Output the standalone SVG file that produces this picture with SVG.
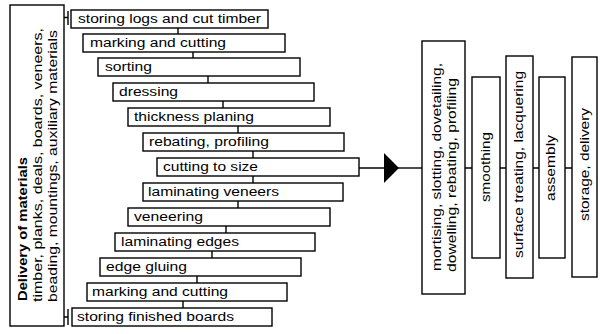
<svg xmlns="http://www.w3.org/2000/svg" width="600" height="334" viewBox="0 0 600 334">
<style>
rect{fill:#fff;stroke:#000;stroke-width:1.4}
text{font-family:"Liberation Sans",Arial,sans-serif;font-size:12px;fill:#000}
.b{font-weight:bold}
.c{fill:none;stroke:#000;stroke-width:1.4}
</style>
<defs>
<marker id="ah" viewBox="0 0 15 30" refX="15" refY="15" markerWidth="15" markerHeight="30" markerUnits="userSpaceOnUse" orient="auto">
<path d="M0,0 L15,15 L0,30 Z" fill="#000"/>
</marker>
</defs>
<rect width="600" height="334" style="fill:#fff;stroke:none"/>
<g id="connectors">
<path class="c" d="M64,17.5 H68 M68,11 V25"/>
<path class="c" d="M64,317 H68 M68,309 V325"/>
<path class="c" d="M178,28 V34 M193,52 V58 M208,76 V83 M223,101 V108 M238,126 V133 M253,151 V158 M253,176 V183 M238,201 V208 M226,226 V233 M212,251 V258 M197,276 V283 M183,301 V308"/>
<path class="c" d="M359,168 H399" marker-end="url(#ah)"/>
<path class="c" d="M399,168 H422"/>
<path class="c" d="M465,168 H472 M500,168 H506 M533,168 H539 M565,168 H572"/>
</g>
<g id="delivery">
<rect x="10" y="5" width="54" height="321"/>
<text class="b" transform="translate(27,301) rotate(-90)" textLength="144" lengthAdjust="spacingAndGlyphs">Delivery of materials</text>
<text transform="translate(42,302) rotate(-90)" textLength="274" lengthAdjust="spacingAndGlyphs">timber, planks, deals, boards, veneers,</text>
<text transform="translate(57,302) rotate(-90)" textLength="272" lengthAdjust="spacingAndGlyphs">beading, mountings, auxiliary materials</text>
</g>
<g id="s1"><rect x="71" y="10" width="197" height="18"/><text x="78" y="23" textLength="183" lengthAdjust="spacingAndGlyphs">storing logs and cut timber</text></g>
<g id="s2"><rect x="83" y="34" width="202" height="18"/><text x="90" y="47" textLength="136" lengthAdjust="spacingAndGlyphs">marking and cutting</text></g>
<g id="s3"><rect x="98" y="58" width="202" height="18"/><text x="105" y="71" textLength="47" lengthAdjust="spacingAndGlyphs">sorting</text></g>
<g id="s4"><rect x="113" y="83" width="201" height="18"/><text x="119" y="96" textLength="59" lengthAdjust="spacingAndGlyphs">dressing</text></g>
<g id="s5"><rect x="128" y="108" width="202" height="18"/><text x="134" y="121" textLength="120" lengthAdjust="spacingAndGlyphs">thickness planing</text></g>
<g id="s6"><rect x="143" y="133" width="201" height="18"/><text x="149" y="146" textLength="120" lengthAdjust="spacingAndGlyphs">rebating, profiling</text></g>
<g id="s7"><rect x="157" y="158" width="202" height="18"/><text x="163" y="171" textLength="95" lengthAdjust="spacingAndGlyphs">cutting to size</text></g>
<g id="s8"><rect x="143" y="183" width="200" height="18"/><text x="148" y="196" textLength="131" lengthAdjust="spacingAndGlyphs">laminating veneers</text></g>
<g id="s9"><rect x="128" y="208" width="202" height="18"/><text x="134" y="221" textLength="69" lengthAdjust="spacingAndGlyphs">veneering</text></g>
<g id="s10"><rect x="115" y="233" width="200" height="18"/><text x="121" y="246" textLength="118" lengthAdjust="spacingAndGlyphs">laminating edges</text></g>
<g id="s11"><rect x="100" y="258" width="201" height="18"/><text x="106" y="271" textLength="81" lengthAdjust="spacingAndGlyphs">edge gluing</text></g>
<g id="s12"><rect x="87" y="283" width="200" height="18"/><text x="92" y="296" textLength="136" lengthAdjust="spacingAndGlyphs">marking and cutting</text></g>
<g id="s13"><rect x="72" y="308" width="200" height="18"/><text x="77" y="321" textLength="157" lengthAdjust="spacingAndGlyphs">storing finished boards</text></g>
<g id="mortising">
<rect x="422" y="41" width="43" height="253"/>
<text transform="translate(441,271) rotate(-90)" textLength="208" lengthAdjust="spacingAndGlyphs">mortising, slotting, dovetailing,</text>
<text transform="translate(456,272) rotate(-90)" textLength="194" lengthAdjust="spacingAndGlyphs">dowelling, rebating, profiling</text>
</g>
<g id="smoothing">
<rect x="472" y="77" width="28" height="181"/>
<text transform="translate(490,202) rotate(-90)" textLength="70" lengthAdjust="spacingAndGlyphs">smoothing</text>
</g>
<g id="surface">
<rect x="506" y="56" width="27" height="222"/>
<text transform="translate(523,258) rotate(-90)" textLength="187" lengthAdjust="spacingAndGlyphs">surface treating, lacquering</text>
</g>
<g id="assembly">
<rect x="539" y="77" width="26" height="181"/>
<text transform="translate(555,201) rotate(-90)" textLength="66" lengthAdjust="spacingAndGlyphs">assembly</text>
</g>
<g id="storage">
<rect x="572" y="57" width="25" height="220"/>
<text transform="translate(589,221) rotate(-90)" textLength="113" lengthAdjust="spacingAndGlyphs">storage, delivery</text>
</g>
</svg>
